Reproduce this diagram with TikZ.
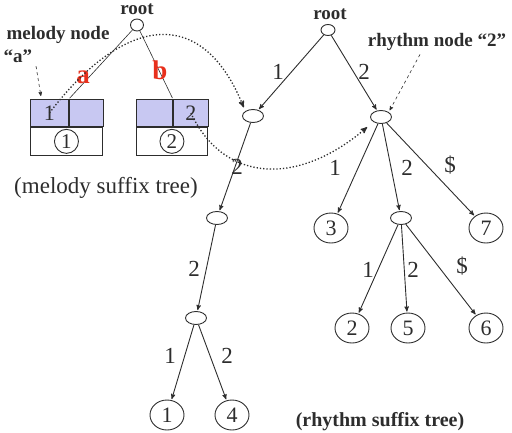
\documentclass[tikz,border=0pt]{standalone}
\usepackage{fontspec}
\setmainfont{Liberation Serif}
\usetikzlibrary{shapes,arrows,positioning}
\definecolor{boxblue}{RGB}{200,200,242}
\definecolor{ink}{RGB}{45,45,45}
\definecolor{redlbl}{RGB}{232,48,28}
\tikzstyle{inner} = [draw, ellipse, minimum width=21pt, minimum height=13pt, inner sep=0pt]
\tikzstyle{leaf} = [draw, ellipse, minimum width=34pt, minimum height=30pt, inner sep=0pt, font=\fontsize{22}{24}\selectfont]
\tikzstyle{num} = [draw, circle, minimum size=24pt, inner sep=0pt, font=\fontsize{21}{23}\selectfont]
\tikzstyle{cell} = [draw, rectangle, fill=boxblue, minimum height=27pt, inner sep=0pt, anchor=north west, font=\fontsize{22}{24}\selectfont]
\tikzstyle{lbl} = [font=\fontsize{23}{25}\selectfont]
\tikzstyle{note} = [font=\bfseries\fontsize{19}{21}\selectfont]
\tikzstyle{letter} = [text=redlbl, font=\bfseries\fontsize{27}{29}\selectfont]

\begin{document}
\begin{tikzpicture}[x=1pt,y=-1pt,->,>=stealth',shorten >=1pt,color=ink,line width=0.9pt]
\useasboundingbox (0,0) rectangle (512,432);

% melody suffix tree
\node[inner, minimum width=13pt, minimum height=12pt] (mroot) at (137,25) {};
\node[note] (mrootlbl) at (137,9) {root};
\node[cell, minimum width=38pt] (ca1) at (30,99) {1};
\node[cell, minimum width=34pt, right=0pt of ca1] (ca2) {};
\node[cell, fill=white, minimum width=72pt, minimum height=28pt] (ca3) at (ca1.south west) {};
\node[num] (ma) at (ca3) {1};
\node[cell, minimum width=36pt] (cb1) at (136,99) {};
\node[cell, minimum width=35pt, right=0pt of cb1] (cb2) {2};
\node[cell, fill=white, minimum width=71pt, minimum height=28pt] (cb3) at (cb1.south west) {};
\node[num] (mb) at (cb3) {2};

\draw[-, line width=0.6pt] (mroot) -- (ca1.north east);
\draw[-, line width=0.6pt] (mroot) -- (cb1.north east);
\node[letter] (la) at (83,77) {a};
\node[letter] (lb) at (160,70) {b};

\node[note] (mnote) at (58,35) {melody node};
\node[note] (mnotea) at (18,56) {“a”};
\draw[dashed, line width=0.6pt, shorten >=3pt] (mnotea.south east) -- (ca1.120);
\node[font=\fontsize{23}{25}\selectfont] (mtitle) at (106,188) {(melody suffix tree)};

% rhythm suffix tree
\node[inner, minimum width=14pt, minimum height=11pt] (rroot) at (328,30) {};
\node[note] (rrootlbl) at (330,14) {root};
\node[inner] (rA) at (253,116) {};
\node[inner] (rB) at (381,117) {};
\node[inner] (rC) at (401,218) {};
\node[inner] (rD) at (217,218) {};
\node[inner] (rE) at (196,318) {};
\node[leaf] (r3) at (331,228) {3};
\node[leaf] (r7) at (486,228) {7};
\node[leaf] (r2) at (352,328) {2};
\node[leaf] (r5) at (408,328) {5};
\node[leaf] (r6) at (486,328) {6};
\node[leaf] (r1) at (167,415) {1};
\node[leaf] (r4) at (232,415) {4};

\path
(rroot) edge (rA)
(rroot) edge (rB)
(rA) edge (rD)
(rD) edge (rE)
(rE) edge (r1)
(rE) edge (r4)
(rB) edge (r3)
(rB) edge (rC)
(rB) edge (r7)
(rC) edge (r2)
(rC) edge (r5)
(rC) edge (r6);

\node[lbl] (e1) at (278,72) {1};
\node[lbl] (e2) at (364,72) {2};
\node[lbl] (e3) at (237,167) {2};
\node[lbl] (e4) at (194,269) {2};
\node[lbl] (e5) at (170,356) {1};
\node[lbl] (e6) at (227,356) {2};
\node[lbl] (e7) at (335,168) {1};
\node[lbl] (e8) at (407,168) {2};
\node[lbl] (e9) at (450,165) {\$};
\node[lbl] (e10) at (368,270) {1};
\node[lbl] (e11) at (413,270) {2};
\node[lbl] (e12) at (462,266) {\$};

\node[note] (rnote) at (437,42) {rhythm node “2”};
\draw[dashed, line width=0.6pt, shorten >=2pt] ([xshift=-17pt]rnote.south) -- (rB.north east);
\node[note, font=\bfseries\fontsize{20}{22}\selectfont] (rtitle) at (380,422) {(rhythm suffix tree)};

% links between the trees
\draw[dotted, line width=1.3pt, shorten >=4pt] (ca1.center) .. controls (120,20) and (200,0) .. (rA.north west);
\draw[dotted, line width=1.3pt, shorten >=8pt] (cb2.center) .. controls (225,185) and (300,185) .. (rB.south west);
\end{tikzpicture}
\end{document}
